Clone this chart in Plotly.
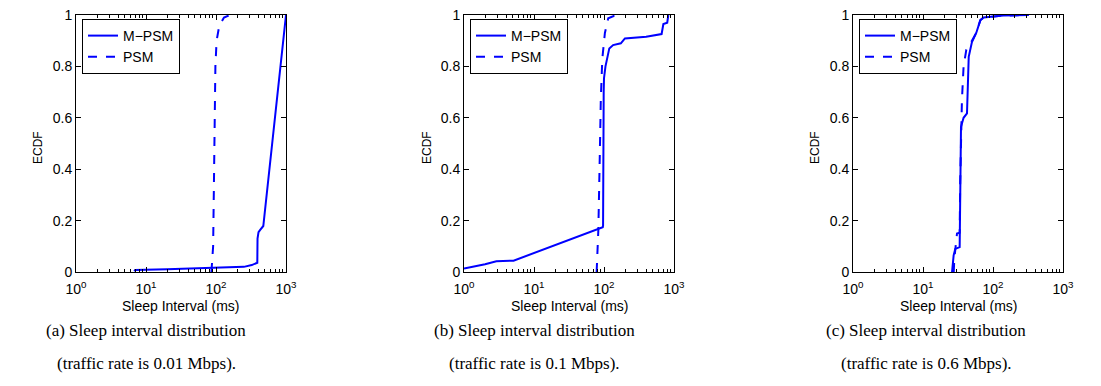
import plotly.graph_objects as go
from plotly.subplots import make_subplots

# page has an 8px body margin, so the figure is drawn 8px in from the window corner
OFF = 8
W, H = 1101 - 2 * OFF, 386 - 2 * OFF
BLUE = "#0000FF"

# ── Data ──────────────────────────────────────────────────────────────────
# (a) 0.01 Mbps
a_mpsm_x = [6.8, 7, 20, 100, 250, 324, 389, 392, 405, 425, 474, 1000]
a_mpsm_y = [0.003, 0.008, 0.011, 0.015, 0.02, 0.027, 0.036, 0.13, 0.155, 0.163, 0.179, 1.0]
a_psm_x = [86, 88, 91, 93, 95, 98, 102, 110, 118, 130, 158]
a_psm_y = [0.0, 0.05, 0.1, 0.3, 0.6, 0.8, 0.9, 0.95, 0.97, 0.99, 1.0]

# (b) 0.1 Mbps
b_mpsm_x = [1, 1.5, 2, 2.9, 5.1, 96, 97, 99, 100, 105, 119, 135, 174, 199, 400, 665, 705, 800, 830]
b_mpsm_y = [0.014, 0.022, 0.03, 0.042, 0.044, 0.174, 0.18, 0.7, 0.754, 0.8, 0.87, 0.883, 0.89,
            0.909, 0.915, 0.926, 0.965, 0.97, 1.0]
b_psm_x = [78.5, 81, 83, 87, 90, 94.6, 103, 115, 140, 190]
b_psm_y = [0.0, 0.08, 0.163, 0.45, 0.67, 0.83, 0.93, 0.987, 0.997, 1.0]

# (c) 0.6 Mbps
c_mpsm_x = [26, 26.5, 27.4, 28.9, 33.4, 34.9, 38, 42.5, 45, 50, 57.6, 66, 73.5, 140, 323]
c_mpsm_y = [0.0, 0.03, 0.065, 0.09, 0.097, 0.565, 0.6, 0.617, 0.837, 0.895, 0.93, 0.98, 0.99,
            0.998, 1.0]
c_psm_x = [27.5, 28, 30.6, 33.4, 34, 36, 38, 41.6, 50, 57.6, 66, 73.5, 140, 323]
c_psm_y = [0.0, 0.05, 0.15, 0.153, 0.35, 0.67, 0.8, 0.865, 0.9, 0.93, 0.98, 0.99, 0.998, 1.0]

panels = [
    (a_mpsm_x, a_mpsm_y, a_psm_x, a_psm_y),
    (b_mpsm_x, b_mpsm_y, b_psm_x, b_psm_y),
    (c_mpsm_x, c_mpsm_y, c_psm_x, c_psm_y),
]
captions = [
    ("(a) Sleep interval distribution", "(traffic rate is 0.01 Mbps)."),
    ("(b) Sleep interval distribution", "(traffic rate is 0.1 Mbps)."),
    ("(c) Sleep interval distribution", "(traffic rate is 0.6 Mbps)."),
]

x_ticks = [1, 10, 100, 1000]
x_ticktext = ["10<sup>0</sup>", "10<sup>1</sup>", "10<sup>2</sup>", "10<sup>3</sup>"]
x_minor = [m * d for d in (1, 10, 100) for m in range(2, 10)]
y_ticks = [0, 0.2, 0.4, 0.6, 0.8, 1]
y_ticktext = ["0", "0.2", "0.4", "0.6", "0.8", "1"]

# window-pixel layout of the three axes boxes (as in the reference)
x_px = [(76, 286), (464, 674), (853, 1063)]
y_top, y_bot = 15, 272
caption_cx = [146, 534, 926]
ylabel_x = [38, 427, 815]


def px_x(v):
    return (v - OFF) / W


def px_y(v):
    return 1 - (v - OFF) / H


fig = make_subplots(rows=1, cols=3)
SANS = "Liberation Sans, Arial, sans-serif"
SERIF = "Liberation Serif, Times New Roman, serif"

for i, (mx, my, px, py) in enumerate(panels):
    leg = "legend" if i == 0 else f"legend{i + 1}"
    fig.add_trace(go.Scatter(x=mx, y=my, mode="lines", name="M−PSM", legend=leg,
                             line=dict(color=BLUE, width=2)), row=1, col=i + 1)
    fig.add_trace(go.Scatter(x=px, y=py, mode="lines", name="PSM", legend=leg,
                             line=dict(color=BLUE, width=2, dash="dash")), row=1, col=i + 1)

    x0, x1 = x_px[i]
    axis_common = dict(showline=True, linecolor="black", linewidth=1, mirror="ticks",
                       ticks="inside", ticklen=5, tickcolor="black", showgrid=False,
                       zeroline=False, automargin=False, ticklabeloverflow="allow",
                       tickfont=dict(family=SANS, size=14, color="black"))
    fig.update_xaxes(type="log", range=[0, 3], domain=[px_x(x0), px_x(x1)],
                     tickvals=x_ticks, ticktext=x_ticktext, ticklabelstandoff=4,
                     minor=dict(tickvals=x_minor, ticks="inside", ticklen=3, tickcolor="black"),
                     **axis_common, row=1, col=i + 1)
    fig.update_yaxes(range=[0, 1], domain=[px_y(y_bot), px_y(y_top)],
                     tickvals=y_ticks, ticktext=y_ticktext, **axis_common, row=1, col=i + 1)

    fig.update_layout({leg: dict(x=px_x(x0 + 6), y=px_y(19), xanchor="left", yanchor="top",
                                 bgcolor="white", bordercolor="black", borderwidth=1,
                                 font=dict(family=SANS, size=14, color="black"),
                                 tracegroupgap=0, itemwidth=30)})

    # axis titles
    fig.add_annotation(x=px_x((x0 + x1) / 2), y=px_y(306), xref="paper", yref="paper",
                       xanchor="center", yanchor="middle",
                       text="Sleep Interval (ms)", showarrow=False,
                       font=dict(family=SANS, size=14, color="black"))
    fig.add_annotation(x=px_x(ylabel_x[i]), y=px_y(148), xref="paper", yref="paper",
                       xanchor="center", yanchor="middle",
                       text="ECDF", textangle=-90, showarrow=False,
                       font=dict(family=SANS, size=12, color="black"))
    # captions
    for line, yc in zip(captions[i], (330, 363)):
        fig.add_annotation(x=px_x(caption_cx[i]), y=px_y(yc), xref="paper", yref="paper",
                           xanchor="center", yanchor="middle",
                           text=line, showarrow=False,
                           font=dict(family=SERIF, size=17, color="black"))

fig.update_layout(
    width=W, height=H,
    margin=dict(l=0, r=0, t=0, b=0, pad=0),
    paper_bgcolor="white", plot_bgcolor="white",
    showlegend=True,
)

fig.write_html("out.html")
